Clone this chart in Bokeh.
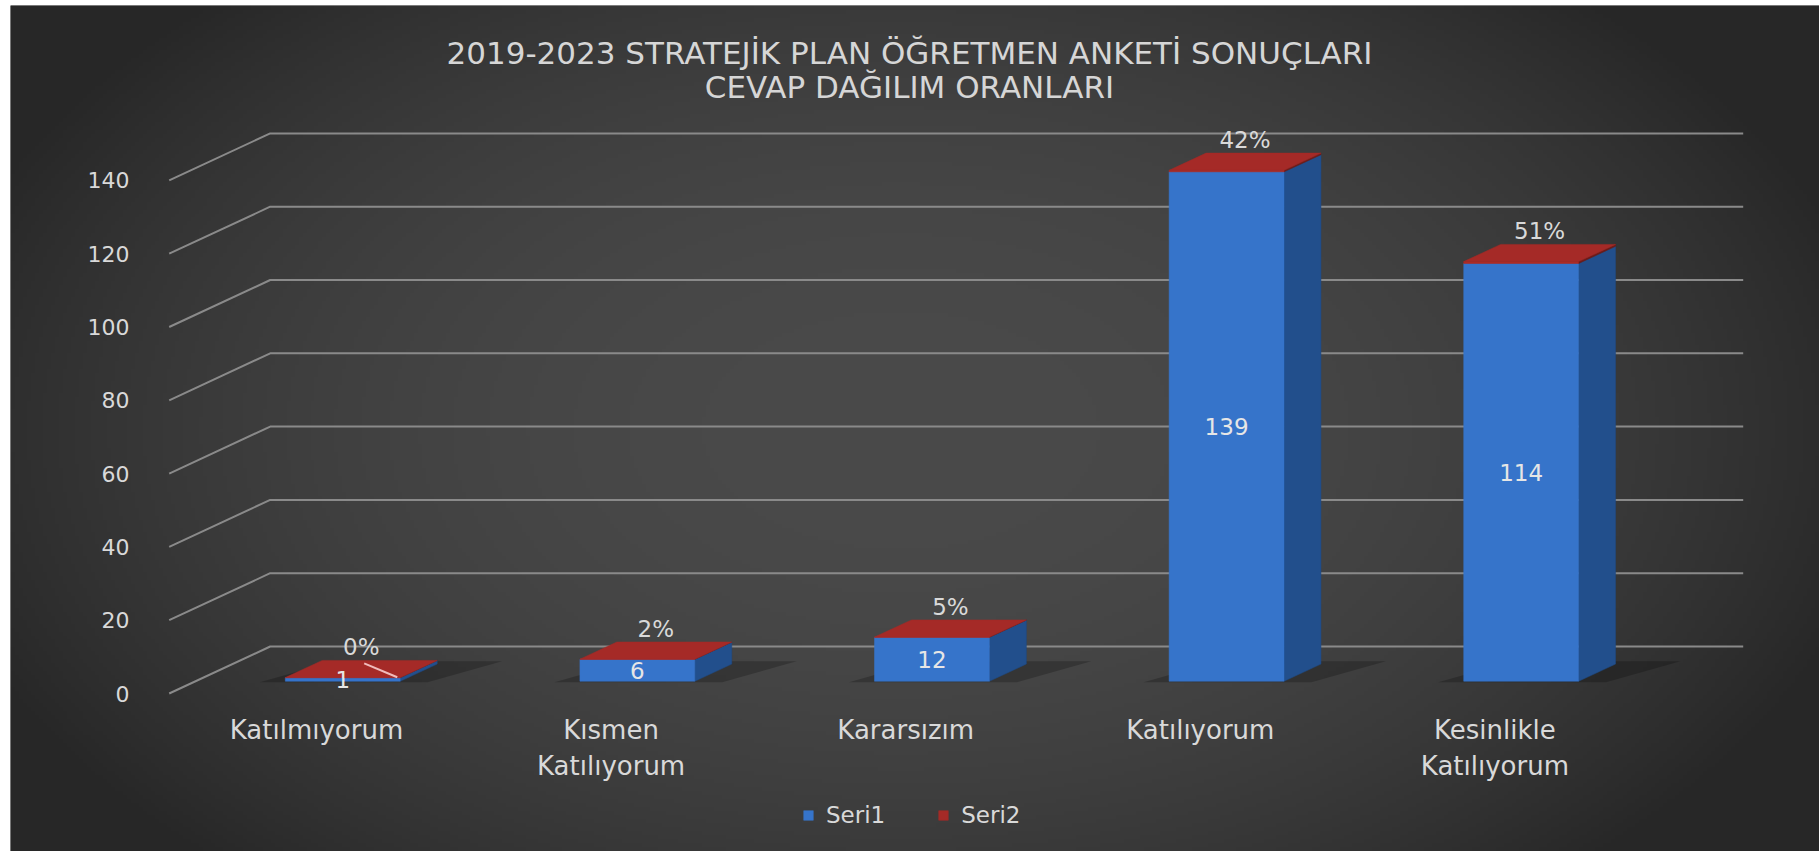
import numpy as np
from bokeh.plotting import figure
from bokeh.models import ColumnDataSource, Label, Legend, LegendItem, Range1d
from bokeh.core.properties import value
from bokeh.embed import file_html
from bokeh.resources import INLINE

# ---------------- data ----------------
categories = ["Katılmıyorum", "Kısmen\nKatılıyorum", "Kararsızım", "Katılıyorum", "Kesinlikle\nKatılıyorum"]
seri1 = [1, 6, 12, 139, 114]
seri2 = [0.004, 0.02, 0.05, 0.42, 0.51]
y_ticks = [0, 20, 40, 60, 80, 100, 120, 140]
series_names = ["Seri1", "Seri2"]
title_lines = ["2019-2023 STRATEJİK PLAN ÖĞRETMEN ANKETİ SONUÇLARI", "CEVAP DAĞILIM ORANLARI"]

# ---------------- layout / style ----------------
W, H = 1819, 851
LEFT, TOP = 10, 5
PX_CAT, X0 = 294.6, 316.0        # px per category, px of category 0 (front plane)
PX_VAL, Y0 = 3.665, 693.0        # px per value unit, px of value 0 (front plane)
DX = 101.0 / PX_CAT              # full depth offset (category units)
DY = 47.0 / PX_VAL               # full depth offset (value units)
F0, F1 = 0.26, 0.626             # bar depth span (fraction of full depth)
BW = 0.39                        # bar width (category units)
FONT = value("DejaVu Sans")
TXT = "#d9d9d9"

n = len(categories)
idx = list(range(n))

p = figure(width=W, height=H, output_backend="svg", toolbar_location=None,
           x_range=Range1d((LEFT - X0) / PX_CAT, (W - X0) / PX_CAT),
           y_range=Range1d((Y0 - H) / PX_VAL, (Y0 - TOP) / PX_VAL),
           x_axis_location=None, y_axis_location=None,
           min_border_left=LEFT, min_border_top=TOP, min_border_right=0, min_border_bottom=0,
           border_fill_color="white", background_fill_color="#2a2a2a", outline_line_color=None)
p.grid.visible = False

# ---- radial background gradient ----
x0r, x1r = p.x_range.start, p.x_range.end
y0r, y1r = p.y_range.start, p.y_range.end
ny, nx = 212, 453
pxs = LEFT + (np.arange(nx) + 0.5) / nx * (W - LEFT)
pys = H - (np.arange(ny) + 0.5) / ny * (H - TOP)   # row 0 = bottom
PX, PY = np.meshgrid(pxs, pys)
r = np.sqrt(((PX - 900) / 1000.0) ** 2 + ((PY - 430) / 600.0) ** 2)
r = np.clip(r, 0, 1)
c_in, c_out = 0x4a, 0x27
g = (c_in - (c_in - c_out) * r ** 2.2).astype(np.uint32)
img = (255 << 24) | (g << 16) | (g << 8) | g
p.image_rgba(image=[img.astype(np.uint32)], x=x0r, y=y0r, dw=x1r - x0r, dh=y1r - y0r)

# ---- gridlines (front-left diagonal + back wall) ----
gx, gy = [], []
for t in y_ticks:
    gx.append([-0.5, -0.5 + DX, n - 0.5 + DX])
    gy.append([t, t + DY, t + DY])
p.multi_line(xs=gx, ys=gy, line_color="#8a8a8a", line_width=2)

# ---- y tick labels ----
p.text(x=[-0.635] * len(y_ticks), y=y_ticks, text=[str(t) for t in y_ticks],
       text_align="right", text_baseline="middle", text_font=FONT,
       text_font_size="22px", text_color=TXT)

# ---- bars ----
shadow_xs, shadow_ys = [], []
f1_x, f1_y, s1_x, s1_y = [], [], [], []
f2_x, f2_y, s2_x, s2_y = [], [], [], []
top_x, top_y = [], []
for i in idx:
    cL, cR = i - BW / 2, i + BW / 2
    total = seri1[i] + seri2[i]
    # floor shadow
    shadow_xs.append([cL - 0.08 + (F0 - 0.02) * DX, cR + 0.10 + (F0 - 0.02) * DX,
                      cR + 0.20 + (F1 + 0.06) * DX, cL + 0.02 + (F1 + 0.06) * DX])
    shadow_ys.append([(F0 - 0.02) * DY, (F0 - 0.02) * DY, (F1 + 0.06) * DY, (F1 + 0.06) * DY])
    for (v0, v1, fx, fy, sx, sy) in [(0, seri1[i], f1_x, f1_y, s1_x, s1_y),
                                     (seri1[i], total, f2_x, f2_y, s2_x, s2_y)]:
        fx.append([cL + F0 * DX, cR + F0 * DX, cR + F0 * DX, cL + F0 * DX])
        fy.append([v0 + F0 * DY, v0 + F0 * DY, v1 + F0 * DY, v1 + F0 * DY])
        sx.append([cR + F0 * DX, cR + F1 * DX, cR + F1 * DX, cR + F0 * DX])
        sy.append([v0 + F0 * DY, v0 + F1 * DY, v1 + F1 * DY, v1 + F0 * DY])
    top_x.append([cL + F0 * DX, cR + F0 * DX, cR + F1 * DX, cL + F1 * DX])
    top_y.append([total + F0 * DY, total + F0 * DY, total + F1 * DY, total + F1 * DY])

p.patches(xs=shadow_xs, ys=shadow_ys, fill_color="black", fill_alpha=0.22, line_color=None)
p.patches(xs=s1_x, ys=s1_y, fill_color="#224f8c", line_color="#1f4a84", line_width=0.5)
r1 = p.patches(xs=f1_x, ys=f1_y, fill_color="#3674ca", line_color="#3674ca", line_width=0.5)
p.patches(xs=s2_x, ys=s2_y, fill_color="#6e1c1a", line_color="#6e1c1a", line_width=0.5)
p.patches(xs=f2_x, ys=f2_y, fill_color="#b02c28", line_color="#b02c28", line_width=0.5)
r2 = p.patches(xs=top_x, ys=top_y, fill_color="#a52a27", line_color="#a52a27", line_width=0.5)

# ---- data labels ----
fm = (F0 + F1) / 2
p.text(x=[i + F0 * DX for i in idx], y=[seri1[i] / 2 + F0 * DY for i in idx],
       text=[str(v) for v in seri1], text_align="center", text_baseline="middle",
       text_font=FONT, text_font_size="23px", text_color="#e6e6e6")
pct = [f"{round(v * 100)}%" for v in seri2]
p.text(x=[i + fm * DX for i in idx], y=[seri1[i] + seri2[i] + F1 * DY for i in idx],
       text=pct, text_align="center", text_baseline="bottom",
       text_font=FONT, text_font_size="23px", text_color=TXT)
# leader line for the smallest label
i0 = int(np.argmin(seri1))
p.line(x=[i0 + fm * DX + 0.01, i0 + BW / 2 + F0 * DX - 0.01],
       y=[seri1[i0] + seri2[i0] + F1 * DY - 0.8, seri1[i0] + seri2[i0] + F0 * DY + 0.1],
       line_color="#f0bcbc", line_width=2)

# ---- category labels ----
p.text(x=idx, y=[-6.0] * n, text=categories, text_align="center", text_baseline="top",
       text_font=FONT, text_font_size="26px", text_color=TXT, text_line_height=1.2)

# ---- title ----
for k, line in enumerate(title_lines):
    p.add_layout(Label(x=909 - LEFT, y=H - (52 + 34 * k), x_units="screen", y_units="screen",
                       text=line, text_align="center", text_baseline="middle",
                       text_font="DejaVu Sans", text_font_size="31px", text_color="#d6d6d6"))

# ---- legend ----
legend = Legend(items=[LegendItem(label=series_names[0], renderers=[r1]),
                       LegendItem(label=series_names[1], renderers=[r2])],
                location=(792, 23), orientation="horizontal",
                background_fill_alpha=0, border_line_color=None,
                label_text_color=TXT, label_text_font="DejaVu Sans", label_text_font_size="23px",
                glyph_width=12, glyph_height=12, label_standoff=12, spacing=52,
                padding=0, margin=0)
p.add_layout(legend, "center")

open("out.html", "w").write(file_html(p, INLINE))
